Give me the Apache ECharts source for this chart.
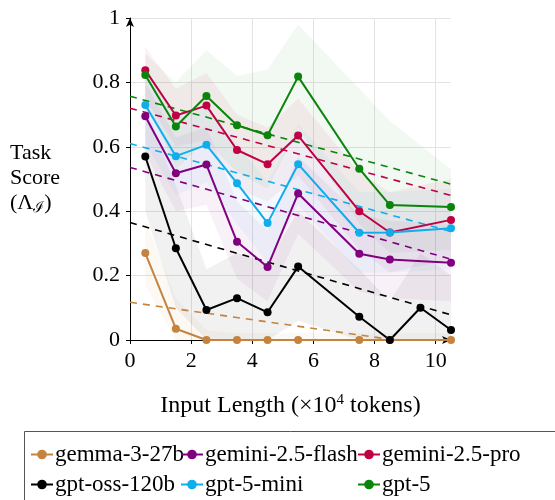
<!DOCTYPE html>
<html>
<head>
<meta charset="utf-8">
<script src="https://cdn.jsdelivr.net/npm/echarts@6/dist/echarts.min.js"></script>
<style>
  html, body { margin: 0; padding: 0; background: #fff; }
  #main { width: 555px; height: 500px; }
</style>
</head>
<body>
<div id="main"></div>
<script>
// x positions (x10^4 tokens); 9.5 only measured for gpt-oss-120b
var xs = [0.5, 1.5, 2.5, 3.5, 4.5, 5.5, 7.5, 8.5, 9.5, 10.5];

var gemma = [0.27, 0.035, 0, 0, 0, 0, 0, 0, null, 0];
var flash = [0.695, 0.518, 0.545, 0.305, 0.227, 0.455, 0.268, 0.25, null, 0.24];
var pro   = [0.838, 0.697, 0.728, 0.59, 0.546, 0.635, 0.40, 0.334, null, 0.373];
var oss   = [0.57, 0.285, 0.093, 0.13, 0.086, 0.228, 0.072, 0, 0.1, 0.031];
var mini  = [0.73, 0.571, 0.606, 0.487, 0.363, 0.546, 0.333, 0.334, null, 0.347];
var gpt5  = [0.823, 0.663, 0.758, 0.667, 0.636, 0.818, 0.532, 0.419, null, 0.413];

// shaded spread (upper / lower)
var gemmaHi = [0.37, 0.13, 0.03, 0.02, 0.02, 0.02, 0.02, 0.02, null, 0.02];
var gemmaLo = [0.17, 0, 0, 0, 0, 0, 0, 0, null, 0];
var flashHi = [0.80, 0.63, 0.66, 0.43, 0.34, 0.57, 0.39, 0.37, null, 0.36];
var flashLo = [0.58, 0.40, 0.42, 0.19, 0.12, 0.33, 0.15, 0.13, null, 0.12];
var proHi   = [0.91, 0.78, 0.83, 0.70, 0.66, 0.75, 0.52, 0.46, null, 0.50];
var proLo   = [0.75, 0.60, 0.62, 0.47, 0.43, 0.51, 0.28, 0.21, null, 0.25];
var ossHi   = [0.72, 0.48, 0.22, 0.27, 0.24, 0.40, 0.22, 0.12, 0.27, 0.20];
var ossLo   = [0.40, 0.10, 0, 0, 0, 0.06, 0, 0, 0, 0];
var miniHi  = [0.85, 0.69, 0.72, 0.61, 0.49, 0.67, 0.46, 0.46, null, 0.47];
var miniLo  = [0.61, 0.45, 0.49, 0.36, 0.24, 0.42, 0.21, 0.21, null, 0.22];
var gpt5Hi  = [0.89, 0.80, 0.90, 0.82, 0.84, 0.98, 0.78, 0.68, null, 0.53];
var gpt5Lo  = [0.75, 0.53, 0.62, 0.52, 0.47, 0.66, 0.36, 0.27, null, 0.28];

// linear trends, from x=0 to x=10.5
var trendX = [0, 10.5];
var gemmaTrend = [0.117, -0.025];
var flashTrend = [0.536, 0.251];
var proTrend   = [0.72, 0.449];
var ossTrend   = [0.365, 0.078];
var miniTrend  = [0.61, 0.337];
var gpt5Trend  = [0.757, 0.484];

var xTicks = [0, 2, 4, 6, 8, 10];

var models = [
  { name: 'gemma-3-27b',      color: '#c4843f', v: gemma, hi: gemmaHi, lo: gemmaLo, t: gemmaTrend },
  { name: 'gemini-2.5-flash', color: '#800080', v: flash, hi: flashHi, lo: flashLo, t: flashTrend },
  { name: 'gemini-2.5-pro',   color: '#c00045', v: pro,   hi: proHi,   lo: proLo,   t: proTrend },
  { name: 'gpt-oss-120b',     color: '#000000', v: oss,   hi: ossHi,   lo: ossLo,   t: ossTrend },
  { name: 'gpt-5-mini',       color: '#10adec', v: mini,  hi: miniHi,  lo: miniLo,  t: miniTrend },
  { name: 'gpt-5',            color: '#0a840a', v: gpt5,  hi: gpt5Hi,  lo: gpt5Lo,  t: gpt5Trend }
];

var FONT = 'Liberation Serif';

function bandSeries(m) {
  return {
    type: 'custom',
    name: m.name + ' band',
    silent: true,
    z: 1,
    data: [[0, 0]],
    renderItem: function (params, api) {
      var pts = [];
      for (var i = 0; i < xs.length; i++) {
        if (m.hi[i] != null) pts.push(api.coord([xs[i], m.hi[i]]));
      }
      for (var j = xs.length - 1; j >= 0; j--) {
        if (m.lo[j] != null) pts.push(api.coord([xs[j], m.lo[j]]));
      }
      return { type: 'polygon', shape: { points: pts }, style: { fill: m.color, opacity: 0.055 } };
    }
  };
}

var series = [];
models.forEach(function (m) { series.push(bandSeries(m)); });
models.forEach(function (m) {
  series.push({
    type: 'line',
    name: m.name + ' trend',
    data: trendX.map(function (x, i) { return [x, m.t[i]]; }),
    symbol: 'none',
    silent: true,
    z: 2,
    lineStyle: { color: m.color, width: 1.6, type: [7, 6] }
  });
});
models.forEach(function (m) {
  series.push({
    type: 'line',
    name: m.name,
    data: xs.map(function (x, i) { return [x, m.v[i]]; }),
    connectNulls: true,
    symbol: 'circle',
    symbolSize: 8,
    z: 3,
    itemStyle: { color: m.color },
    lineStyle: { color: m.color, width: 2 }
  });
});

var colX = [30, 180, 357];
var rowY = [443, 473];
var legends = models.map(function (m, i) {
  return {
    data: [m.name],
    left: colX[i % 3],
    top: rowY[Math.floor(i / 3)],
    padding: 0,
    itemWidth: 22,
    itemHeight: 12,
    itemGap: 4,
    textStyle: { fontFamily: FONT, fontSize: 23, color: '#000', padding: [0, 0, 0, -3] }
  };
});

var chart = echarts.init(document.getElementById('main'));
chart.setOption({
  animation: false,
  backgroundColor: '#fff',
  grid: { left: 130, right: 104, top: 18, bottom: 160 },
  legend: legends,
  xAxis: {
    type: 'value',
    min: 0,
    max: 10.5,
    interval: 2,
    name: 'Input Length (×10{s|4} tokens)',
    nameLocation: 'middle',
    nameGap: 53,
    nameTextStyle: {
      fontFamily: FONT, fontSize: 24, color: '#000',
      rich: { s: { fontFamily: FONT, fontSize: 15, color: '#000', verticalAlign: 'top', padding: [0, 0, 10, 0] } }
    },
    axisLine: { show: true, symbol: ['none', 'arrow'], symbolSize: [6, 9], lineStyle: { color: '#000', width: 1 } },
    axisTick: { lineStyle: { color: '#000' }, length: 4 },
    axisLabel: {
      fontFamily: FONT, fontSize: 22, color: '#000', margin: 10,
      showMaxLabel: false,
      formatter: function (v) { return xTicks.indexOf(v) >= 0 ? String(v) : ''; }
    },
    splitLine: { show: true, showMaxLine: false, lineStyle: { color: '#e3e3e3', width: 1 } }
  },
  yAxis: {
    type: 'value',
    min: 0,
    max: 1,
    interval: 0.2,
    axisLine: { show: true, symbol: ['none', 'arrow'], symbolSize: [6, 9], lineStyle: { color: '#000', width: 1 } },
    axisTick: { show: true, lineStyle: { color: '#000' }, length: 4 },
    axisLabel: { fontFamily: FONT, fontSize: 22, color: '#000', margin: 10 },
    splitLine: { show: true, lineStyle: { color: '#e3e3e3', width: 1 } }
  },
  graphic: [
    {
      type: 'rect',
      left: 22, top: 429,
      shape: { width: 560, height: 90 },
      style: { fill: 'none', stroke: '#555', lineWidth: 1 },
      silent: true
    },
    {
      type: 'text',
      left: 10, top: 141,
      style: {
        text: 'Task\nScore\n(Λ{s|ℐ})',
        fontFamily: FONT, fontSize: 22, fill: '#000',
        align: 'center', lineHeight: 25,
        rich: { s: { fontFamily: FONT, fontSize: 15, fill: '#000', verticalAlign: 'bottom' } }
      }
    }
  ],
  series: series
});
</script>
</body>
</html>
